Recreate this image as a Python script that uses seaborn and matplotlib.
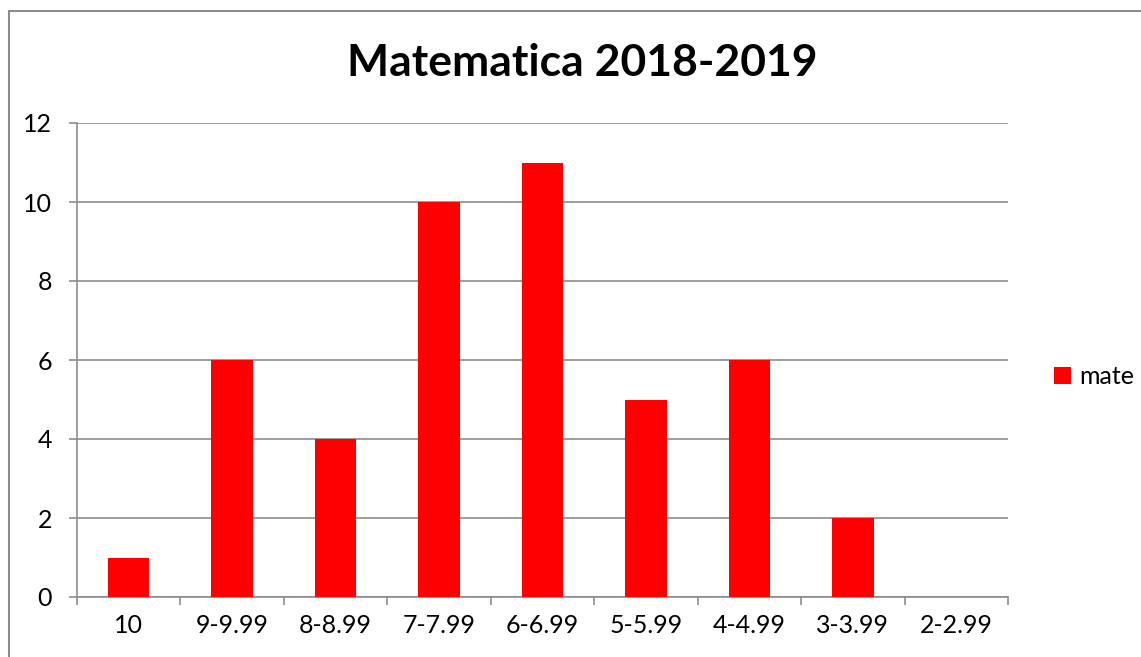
import seaborn as sns
import matplotlib.pyplot as plt
from matplotlib.patches import Rectangle
import pandas as pd

categories = ["10", "9-9.99", "8-8.99", "7-7.99", "6-6.99", "5-5.99", "4-4.99", "3-3.99", "2-2.99"]
counts = [1, 6, 4, 10, 11, 5, 6, 2, 0]
series_name = "mate"
title = "Matematica 2018-2019"

df = pd.DataFrame({"interval": categories, "count": counts})

sns.set_style("white")
plt.rcParams['font.family'] = ['Lato', 'DejaVu Sans']
plt.rcParams['text.color'] = 'black'

fig = plt.figure(figsize=(11.41, 6.57), dpi=100)
ax = fig.add_axes([77 / 1141, 1 - 597 / 657, (1008 - 77) / 1141, (597 - 123) / 657])

grey = "#8c8c8c"
sns.barplot(data=df, x="interval", y="count", color="#ff0000", saturation=1,
            width=0.4, label=series_name, linewidth=0, ax=ax, zorder=3)

ax.set_ylim(0, 12)
ax.set_xlim(-0.5, len(categories) - 0.5)
ax.set_yticks(range(0, 13, 2))
ax.yaxis.grid(True, color=grey, linewidth=1.2, zorder=0)
ax.set_axisbelow(True)
ax.set_xlabel("")
ax.set_ylabel("")

for s in ["top", "right"]:
    ax.spines[s].set_visible(False)
for s in ["left", "bottom"]:
    ax.spines[s].set_color(grey)
    ax.spines[s].set_linewidth(1.2)

ax.tick_params(axis="y", which="major", length=6, width=1.2, color=grey,
               labelsize=18, labelcolor="black", pad=12, left=True)
ax.tick_params(axis="x", which="major", length=0, labelsize=18, labelcolor="black", pad=12)
ax.set_xticks([i - 0.5 for i in range(len(categories) + 1)], minor=True)
ax.tick_params(axis="x", which="minor", length=6, width=1.2, color=grey, bottom=True)

# title is centred on the whole chart, not on the plot area
fig.text(582 / 1141, 1 - 63 / 657, title, fontsize=32, fontweight="bold",
         color="black", ha="center", va="center")

ax.legend(loc="center left", bbox_to_anchor=(1.025, 0.465), frameon=False,
          fontsize=18, handlelength=0.7, handleheight=0.7, handletextpad=0.3)

fig.patches.append(Rectangle((9 / 1141, -0.1), 1.2, 1.1 - 11 / 657,
                             transform=fig.transFigure, fill=False,
                             edgecolor=grey, linewidth=1.5))

fig.savefig("out.png", dpi=100)
